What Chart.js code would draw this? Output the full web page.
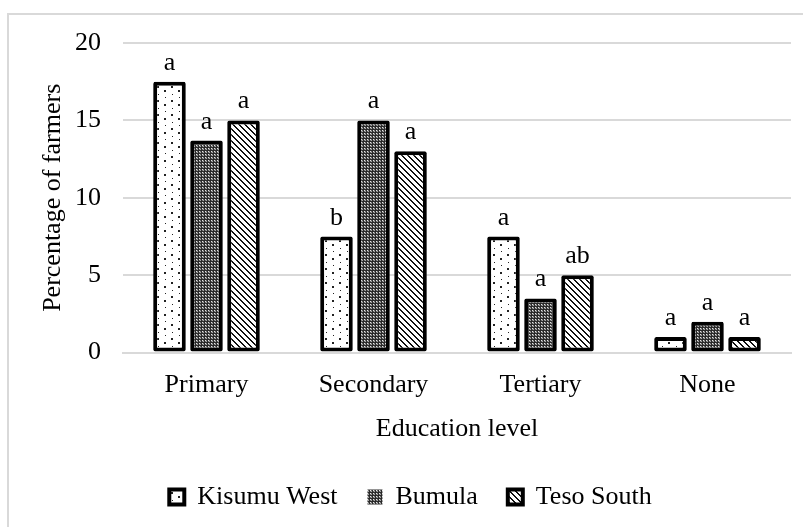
<!DOCTYPE html>
<html>
<head>
<meta charset="utf-8">
<script src="https://cdn.jsdelivr.net/npm/chart.js@4.4.1/dist/chart.umd.min.js"></script>
<style>
  html, body { margin: 0; padding: 0; background: #fff; }
  #wrap { position: relative; width: 803px; height: 527px; overflow: hidden; }
  #frame { position: absolute; left: 7px; top: 13px; width: 900px; height: 600px;
           border-left: 2px solid #d9d9d9; border-top: 2px solid #d9d9d9; }
  #chart { position: absolute; left: 0; top: 0; }
</style>
</head>
<body>
<div id="wrap">
  <div id="frame"></div>
  <canvas id="chart" width="803" height="527"></canvas>
</div>
<script>
// education level categories
const categories = ["Primary", "Secondary", "Tertiary", "None"];
const seriesNames = ["Kisumu West", "Bumula", "Teso South"];

// percentage of farmers per sub-county
const kisumuWest = [17.5, 7.5, 7.5, 1];
const bumula = [13.7, 15, 3.5, 2];
const tesoSouth = [15, 13, 5, 1];

// significance letters drawn above each bar
const kisumuLetters = ["a", "b", "a", "a"];
const bumulaLetters = ["a", "a", "a", "a"];
const tesoLetters = ["a", "a", "ab", "a"];

const yTicks = [0, 5, 10, 15, 20];

const FONT = "'Liberation Serif', 'Times New Roman', serif";

function makeTile(w, h, draw) {
  const c = document.createElement("canvas");
  c.width = w;
  c.height = h;
  const g = c.getContext("2d");
  draw(g);
  return c;
}

const ctx = document.getElementById("chart").getContext("2d");

// sparse dots
const dotTile = makeTile(14, 14, (g) => {
  g.fillStyle = "#fff";
  g.fillRect(0, 0, 14, 14);
  g.fillStyle = "#222";
  g.fillRect(3, 2, 2, 2);
  g.fillRect(10, 6, 2, 2);
  g.fillRect(4, 10, 1, 1);
  g.fillRect(11, 13, 1, 1);
});

// fine mesh
const meshTile = makeTile(3, 3, (g) => {
  g.fillStyle = "#6a6a6a";
  g.fillRect(0, 0, 3, 3);
  g.fillStyle = "#2a2a2a";
  g.fillRect(0, 0, 1, 3);
  g.fillRect(0, 0, 3, 1);
  g.fillStyle = "#e6e6e6";
  g.fillRect(1, 1, 1, 1);
  g.fillStyle = "#aaa";
  g.fillRect(2, 2, 1, 1);
});

// backslash diagonals
const diagTile = makeTile(6, 6, (g) => {
  g.fillStyle = "#fff";
  g.fillRect(0, 0, 6, 6);
  g.fillStyle = "#111";
  for (let i = 0; i < 6; i++) {
    g.fillRect(i, i, 1, 1);
    g.fillRect((i + 1) % 6, i, 1, 1);
  }
});

const fills = [
  ctx.createPattern(dotTile, "repeat"),
  ctx.createPattern(meshTile, "repeat"),
  ctx.createPattern(diagTile, "repeat"),
];

const allLetters = [kisumuLetters, bumulaLetters, tesoLetters];

const letterPlugin = {
  id: "letters",
  afterDatasetsDraw(chart) {
    const c = chart.ctx;
    c.save();
    c.font = "26px " + FONT;
    c.fillStyle = "#000";
    c.textAlign = "center";
    c.textBaseline = "alphabetic";
    chart.data.datasets.forEach((ds, i) => {
      chart.getDatasetMeta(i).data.forEach((bar, j) => {
        c.fillText(allLetters[i][j], bar.x, bar.y - 12);
      });
    });
    c.restore();
  },
};

function barSet(label, data, i) {
  return {
    label,
    data,
    backgroundColor: fills[i],
    borderColor: "#000",
    borderWidth: 4,
    borderRadius: 2,
    borderSkipped: false,
  };
}

new Chart(ctx, {
  type: "bar",
  data: {
    labels: categories,
    datasets: [
      barSet(seriesNames[0], kisumuWest, 0),
      barSet(seriesNames[1], bumula, 1),
      barSet(seriesNames[2], tesoSouth, 2),
    ],
  },
  options: {
    responsive: false,
    animation: false,
    layout: { padding: { left: 30, right: 12, top: 43, bottom: 7 } },
    datasets: {
      bar: { categoryPercentage: 0.665, barPercentage: 0.88 },
    },
    scales: {
      x: {
        afterFit: (s) => { s.height -= 6; },
        grid: { display: false, drawTicks: false },
        border: { color: "#d9d9d9", width: 2 },
        ticks: { color: "#000", font: { family: FONT, size: 26 }, padding: 17 },
        title: {
          display: true,
          text: "Education level",
          color: "#000",
          font: { family: FONT, size: 26 },
          padding: { top: 2, bottom: 9 },
        },
      },
      y: {
        min: 0,
        max: 20,
        afterFit: (s) => { s.width = 93; },
        afterBuildTicks: (s) => { s.ticks = yTicks.map((v) => ({ value: v })); },
        grid: { color: "#d9d9d9", lineWidth: 2, drawTicks: false },
        border: { display: false },
        ticks: { color: "#000", font: { family: FONT, size: 26 }, padding: 22 },
        title: {
          display: true,
          text: "Percentage of farmers",
          color: "#000",
          font: { family: FONT, size: 26 },
          padding: { top: 8, bottom: 0 },
        },
      },
    },
    plugins: {
      legend: {
        position: "bottom",
        labels: {
          color: "#000",
          font: { family: FONT, size: 26 },
          boxWidth: 15,
          boxHeight: 15,
          padding: 30,
          generateLabels(chart) {
            const items = Chart.defaults.plugins.legend.labels.generateLabels(chart);
            items.forEach((it, i) => {
              it.strokeStyle = "#000";
              it.lineWidth = i === 1 ? 0 : 4;
            });
            return items;
          },
        },
      },
      tooltip: { enabled: false },
    },
  },
  plugins: [letterPlugin],
});
</script>
</body>
</html>
